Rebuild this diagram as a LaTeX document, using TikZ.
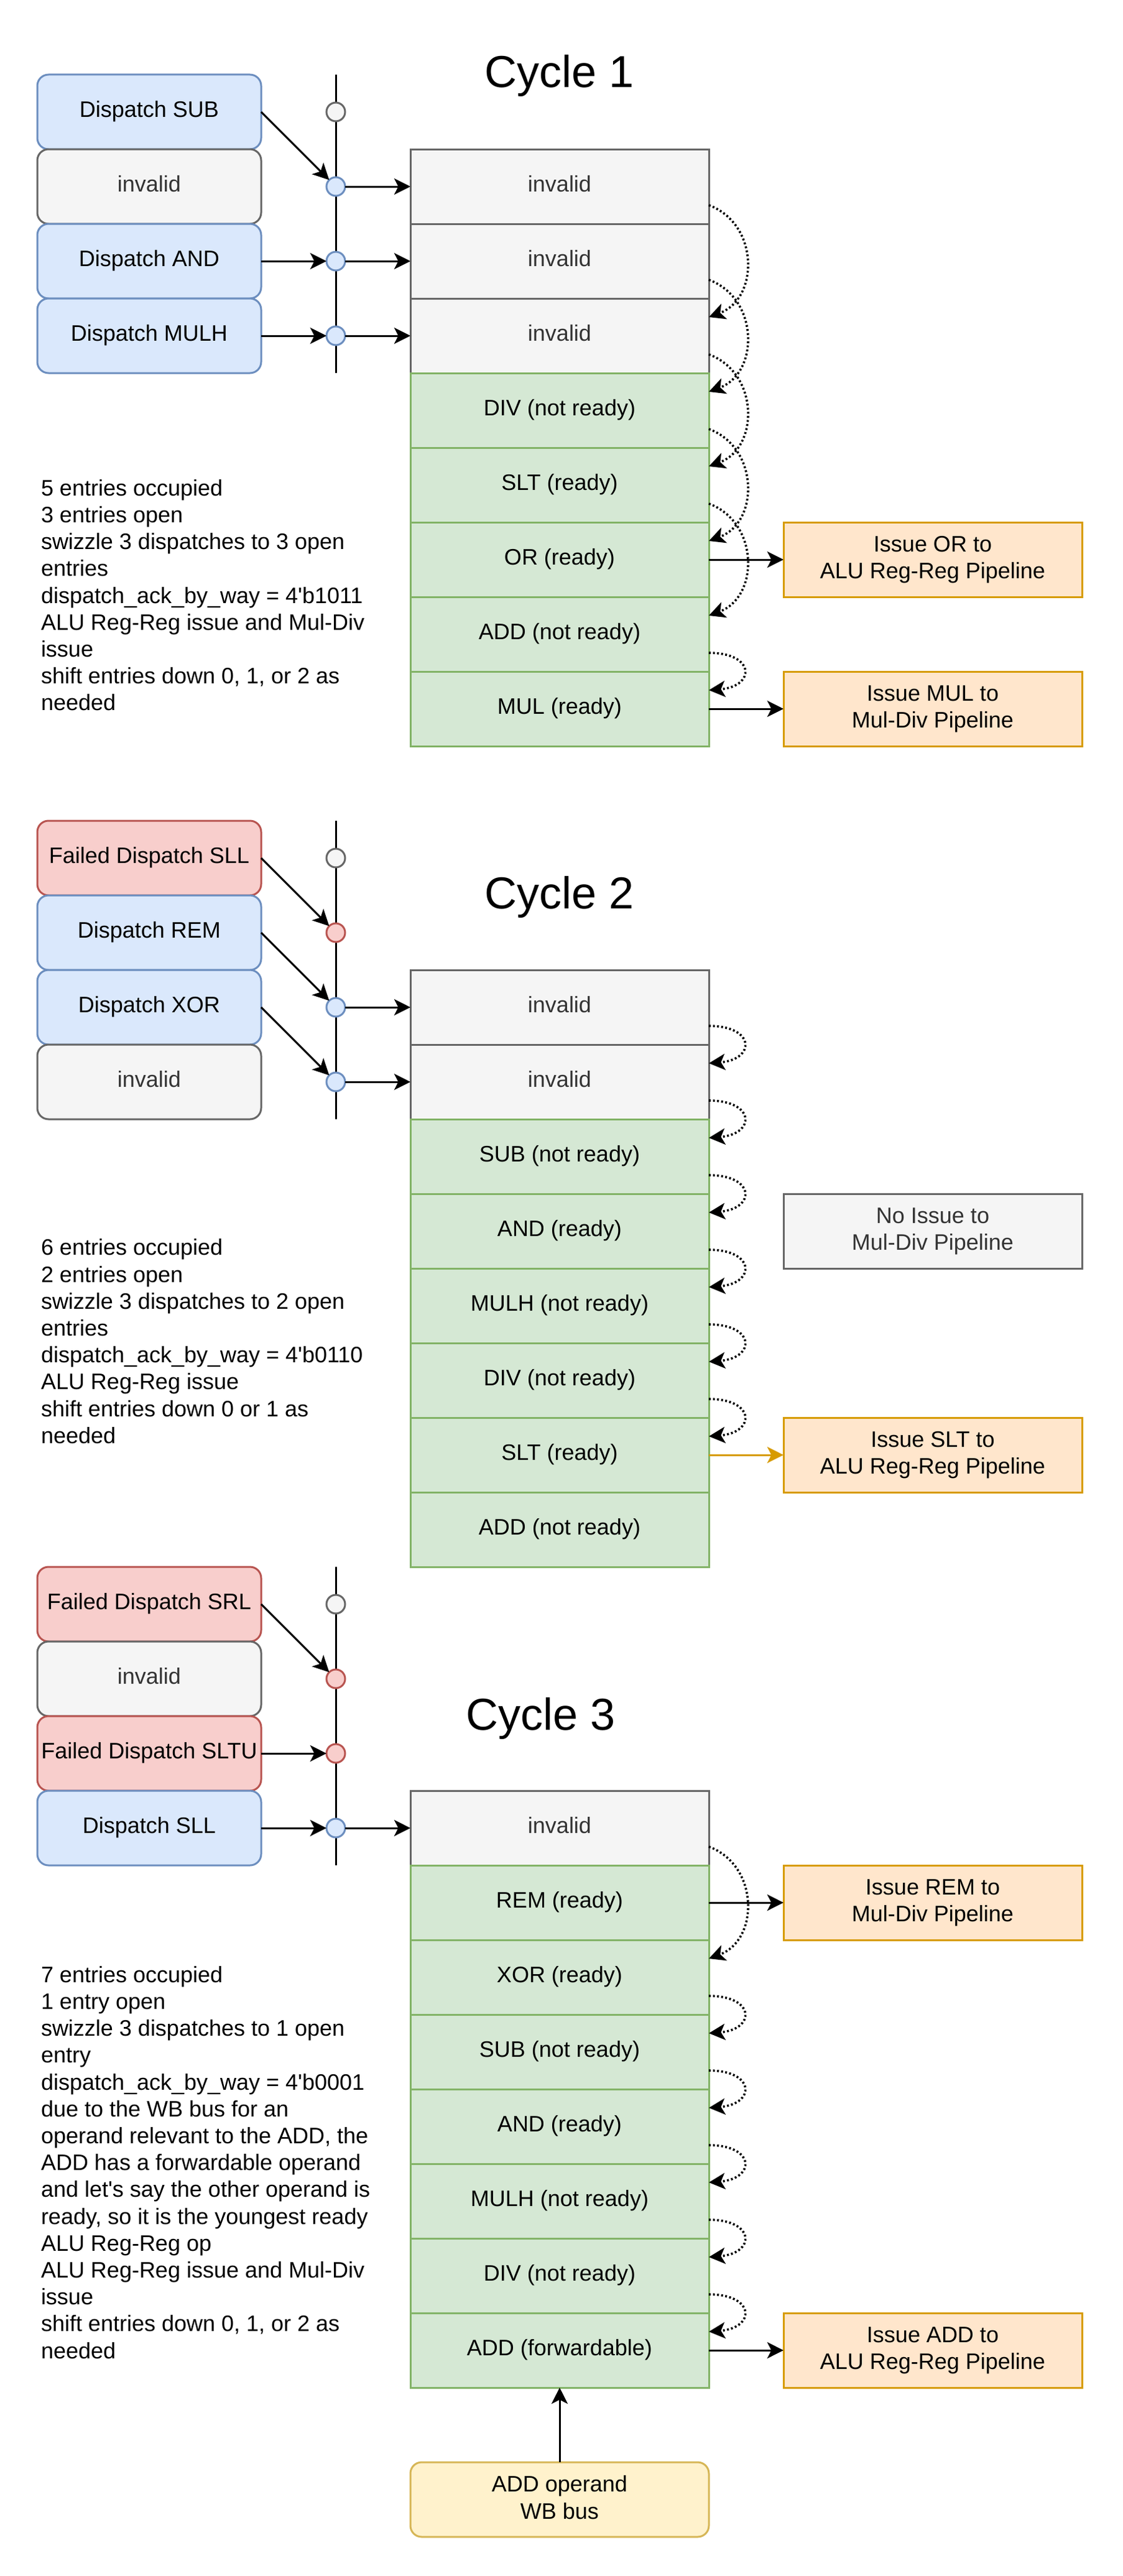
\documentclass[tikz,border=0pt]{standalone}
\usepackage{fontspec}
\setmainfont{Liberation Sans}
\usetikzlibrary{arrows.meta}
\definecolor{bluefill}{HTML}{DAE8FC}
\definecolor{blueline}{HTML}{6C8EBF}
\definecolor{redfill}{HTML}{F8CECC}
\definecolor{redline}{HTML}{B85450}
\definecolor{grayfill}{HTML}{F5F5F5}
\definecolor{grayline}{HTML}{666666}
\definecolor{graytext}{HTML}{333333}
\definecolor{greenfill}{HTML}{D5E8D4}
\definecolor{greenline}{HTML}{82B366}
\definecolor{orangefill}{HTML}{FFE6CC}
\definecolor{orangeline}{HTML}{D79B00}
\definecolor{yellowfill}{HTML}{FFF2CC}
\definecolor{yellowline}{HTML}{D6B656}
\newcommand{\rowstrut}{\rule[-2.34pt]{0pt}{14.4pt}}
\tikzset{
  every node/.style={font=\fontsize{12}{14.4}\selectfont, inner sep=0pt, outer sep=0pt},
  cell/.style={draw, line width=1pt, align=center, execute at begin node=\rowstrut, execute at end node=\rowstrut},
  dispatch/.style={cell, text height=8.2pt, text depth=2.6pt, rounded corners=6pt, minimum width=120pt, minimum height=40pt, draw=blueline, fill=bluefill},
  failed/.style={dispatch, draw=redline, fill=redfill},
  nodisp/.style={dispatch, draw=grayline, fill=grayfill, text=graytext},
  slot/.style={cell, text height=8.2pt, text depth=2.6pt, minimum width=160pt, minimum height=40pt, draw=greenline, fill=greenfill},
  freeslot/.style={slot, draw=grayline, fill=grayfill, text=graytext},
  issue/.style={cell, minimum width=160pt, minimum height=40pt, draw=orangeline, fill=orangefill},
  noissue/.style={issue, draw=grayline, fill=grayfill, text=graytext},
  wbbus/.style={issue, rounded corners=6pt, draw=yellowline, fill=yellowfill},
  port/.style={circle, draw, line width=1pt, minimum size=10pt},
  idle/.style={port, draw=grayline, fill=grayfill},
  ok/.style={port, draw=blueline, fill=bluefill},
  nack/.style={port, draw=redline, fill=redfill},
  cyclelabel/.style={font=\fontsize{24}{28.8}\selectfont, anchor=base},
  notes/.style={anchor=north west, align=left},
  arr/.style={line width=1pt, -{Stealth[length=8.7pt,width=8.7pt,inset=2.2pt]}},
  shiftarr/.style={arr, line width=1.2pt, dash pattern=on 1pt off 1.2pt},
}
\begin{document}
\begin{tikzpicture}[x=1pt,y=-1pt]
\useasboundingbox (0,0) rectangle (602,1381);
% cycle 1
\node[cyclelabel] (t1) at (300,47) {Cycle 1};
\node[dispatch] (d11) at (80,60) {Dispatch SUB};
\node[nodisp] (d12) at (80,100) {invalid};
\node[dispatch] (d13) at (80,140) {Dispatch AND};
\node[dispatch] (d14) at (80,180) {Dispatch MULH};
\coordinate (b1t) at (180,40); \coordinate (b1b) at (180,200);
\draw[line width=1pt] (b1t) -- (b1b);
\node[idle] (p11) at (180,60) {};
\node[ok] (p12) at (180,100) {};
\node[ok] (p13) at (180,140) {};
\node[ok] (p14) at (180,180) {};
\node[freeslot] (q11) at (300,100) {invalid};
\node[freeslot] (q12) at (300,140) {invalid};
\node[freeslot] (q13) at (300,180) {invalid};
\node[slot] (q14) at (300,220) {DIV (not ready)};
\node[slot] (q15) at (300,260) {SLT (ready)};
\node[slot] (q16) at (300,300) {OR (ready)};
\node[slot] (q17) at (300,340) {ADD (not ready)};
\node[slot] (q18) at (300,380) {MUL (ready)};
\node[issue] (i11) at (500,300) {Issue OR to\\ALU Reg-Reg Pipeline};
\node[issue] (i12) at (500,380) {Issue MUL to\\Mul-Div Pipeline};
\node[notes] (n1) at (22,253.7) {\rowstrut 5 entries occupied\\3 entries open\\swizzle 3 dispatches to 3 open\\entries\\dispatch\_ack\_by\_way = 4\textquotesingle b1011\\ALU Reg-Reg issue and Mul-Div\\issue\\shift entries down 0, 1, or 2 as\\needed};
\draw[arr] (d11.east) -- (p12);
\draw[arr] (d13) -- (p13);
\draw[arr] (d14) -- (p14);
\draw[arr] (p12) -- (q11);
\draw[arr] (p13) -- (q12);
\draw[arr] (p14) -- (q13);
\draw[arr] (q16) -- (i11);
\draw[arr] (q18) -- (i12);
\draw[shiftarr] ([yshift=-10pt]q11.east) .. controls +(27,10) and +(27,-10) .. ([yshift=10pt]q13.east);
\draw[shiftarr] ([yshift=-10pt]q12.east) .. controls +(27,10) and +(27,-10) .. ([yshift=10pt]q14.east);
\draw[shiftarr] ([yshift=-10pt]q13.east) .. controls +(27,10) and +(27,-10) .. ([yshift=10pt]q15.east);
\draw[shiftarr] ([yshift=-10pt]q14.east) .. controls +(27,10) and +(27,-10) .. ([yshift=10pt]q16.east);
\draw[shiftarr] ([yshift=-10pt]q15.east) .. controls +(27,10) and +(27,-10) .. ([yshift=10pt]q17.east);
\draw[shiftarr] ([yshift=-10pt]q17.east) .. controls +(25,0) and +(25,-2) .. ([yshift=10pt]q18.east);
% cycle 2
\node[cyclelabel] (t2) at (300,487) {Cycle 2};
\node[failed] (d21) at (80,460) {Failed Dispatch SLL};
\node[dispatch] (d22) at (80,500) {Dispatch REM};
\node[dispatch] (d23) at (80,540) {Dispatch XOR};
\node[nodisp] (d24) at (80,580) {invalid};
\coordinate (b2t) at (180,440); \coordinate (b2b) at (180,600);
\draw[line width=1pt] (b2t) -- (b2b);
\node[idle] (p21) at (180,460) {};
\node[nack] (p22) at (180,500) {};
\node[ok] (p23) at (180,540) {};
\node[ok] (p24) at (180,580) {};
\node[freeslot] (q21) at (300,540) {invalid};
\node[freeslot] (q22) at (300,580) {invalid};
\node[slot] (q23) at (300,620) {SUB (not ready)};
\node[slot] (q24) at (300,660) {AND (ready)};
\node[slot] (q25) at (300,700) {MULH (not ready)};
\node[slot] (q26) at (300,740) {DIV (not ready)};
\node[slot] (q27) at (300,780) {SLT (ready)};
\node[slot] (q28) at (300,820) {ADD (not ready)};
\node[noissue] (i21) at (500,660) {No Issue to\\Mul-Div Pipeline};
\node[issue] (i22) at (500,780) {Issue SLT to\\ALU Reg-Reg Pipeline};
\node[notes] (n2) at (22,660.9) {\rowstrut 6 entries occupied\\2 entries open\\swizzle 3 dispatches to 2 open\\entries\\dispatch\_ack\_by\_way = 4\textquotesingle b0110\\ALU Reg-Reg issue\\shift entries down 0 or 1 as\\needed};
\draw[arr] (d21.east) -- (p22);
\draw[arr] (d22.east) -- (p23);
\draw[arr] (d23.east) -- (p24);
\draw[arr] (p23) -- (q21);
\draw[arr] (p24) -- (q22);
\draw[arr, draw=orangeline] (q27) -- (i22);
\draw[shiftarr] ([yshift=-10pt]q21.east) .. controls +(25,0) and +(25,-2) .. ([yshift=10pt]q22.east);
\draw[shiftarr] ([yshift=-10pt]q22.east) .. controls +(25,0) and +(25,-2) .. ([yshift=10pt]q23.east);
\draw[shiftarr] ([yshift=-10pt]q23.east) .. controls +(25,0) and +(25,-2) .. ([yshift=10pt]q24.east);
\draw[shiftarr] ([yshift=-10pt]q24.east) .. controls +(25,0) and +(25,-2) .. ([yshift=10pt]q25.east);
\draw[shiftarr] ([yshift=-10pt]q25.east) .. controls +(25,0) and +(25,-2) .. ([yshift=10pt]q26.east);
\draw[shiftarr] ([yshift=-10pt]q26.east) .. controls +(25,0) and +(25,-2) .. ([yshift=10pt]q27.east);
% cycle 3
\node[cyclelabel] (t3) at (290,927.5) {Cycle 3};
\node[failed] (d31) at (80,860) {Failed Dispatch SRL};
\node[nodisp] (d32) at (80,900) {invalid};
\node[failed] (d33) at (80,940) {Failed Dispatch SLTU};
\node[dispatch] (d34) at (80,980) {Dispatch SLL};
\coordinate (b3t) at (180,840); \coordinate (b3b) at (180,1000);
\draw[line width=1pt] (b3t) -- (b3b);
\node[idle] (p31) at (180,860) {};
\node[nack] (p32) at (180,900) {};
\node[nack] (p33) at (180,940) {};
\node[ok] (p34) at (180,980) {};
\node[freeslot] (q31) at (300,980) {invalid};
\node[slot] (q32) at (300,1020) {REM (ready)};
\node[slot] (q33) at (300,1060) {XOR (ready)};
\node[slot] (q34) at (300,1100) {SUB (not ready)};
\node[slot] (q35) at (300,1140) {AND (ready)};
\node[slot] (q36) at (300,1180) {MULH (not ready)};
\node[slot] (q37) at (300,1220) {DIV (not ready)};
\node[slot] (q38) at (300,1260) {ADD (forwardable)};
\node[issue] (i31) at (500,1020) {Issue REM to\\Mul-Div Pipeline};
\node[issue] (i32) at (500,1260) {Issue ADD to\\ALU Reg-Reg Pipeline};
\node[wbbus] (wb) at (300,1340) {ADD operand\\WB bus};
\node[notes] (n3) at (22,1050.7) {\rowstrut 7 entries occupied\\1 entry open\\swizzle 3 dispatches to 1 open\\entry\\dispatch\_ack\_by\_way = 4\textquotesingle b0001\\due to the WB bus for an\\operand relevant to the ADD, the\\ADD has a forwardable operand\\and let\textquotesingle s say the other operand is\\ready, so it is the youngest ready\\ALU Reg-Reg op\\ALU Reg-Reg issue and Mul-Div\\issue\\shift entries down 0, 1, or 2 as\\needed};
\draw[arr] (d31.east) -- (p32);
\draw[arr] (d33) -- (p33);
\draw[arr] (d34) -- (p34);
\draw[arr] (p34) -- (q31);
\draw[arr] (q32) -- (i31);
\draw[arr] (q38) -- (i32);
\draw[arr] (wb) -- (q38);
\draw[shiftarr] ([yshift=-10pt]q31.east) .. controls +(27,10) and +(27,-10) .. ([yshift=10pt]q33.east);
\draw[shiftarr] ([yshift=-10pt]q33.east) .. controls +(25,0) and +(25,-2) .. ([yshift=10pt]q34.east);
\draw[shiftarr] ([yshift=-10pt]q34.east) .. controls +(25,0) and +(25,-2) .. ([yshift=10pt]q35.east);
\draw[shiftarr] ([yshift=-10pt]q35.east) .. controls +(25,0) and +(25,-2) .. ([yshift=10pt]q36.east);
\draw[shiftarr] ([yshift=-10pt]q36.east) .. controls +(25,0) and +(25,-2) .. ([yshift=10pt]q37.east);
\draw[shiftarr] ([yshift=-10pt]q37.east) .. controls +(25,0) and +(25,-2) .. ([yshift=10pt]q38.east);
\end{tikzpicture}
\end{document}
